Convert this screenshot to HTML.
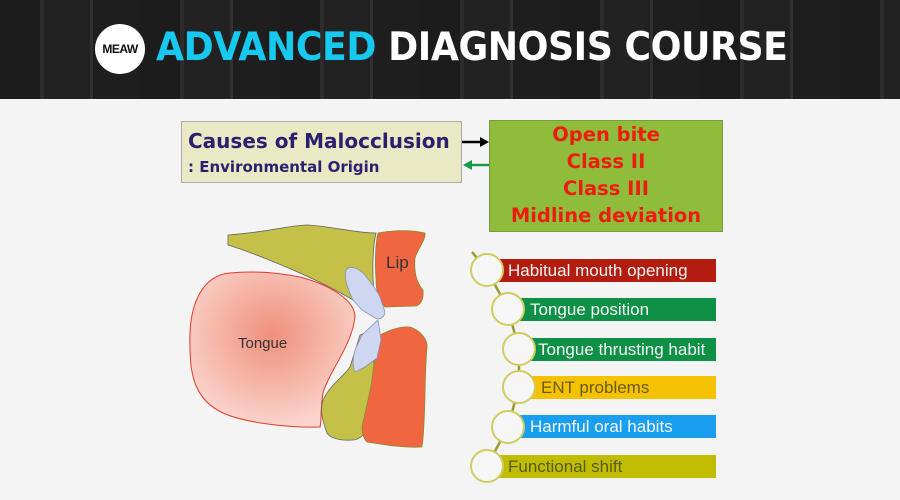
<!DOCTYPE html>
<html><head><meta charset="utf-8"><style>
body{margin:0;width:900px;height:500px;overflow:hidden;background:#f4f4f4;font-family:"DejaVu Sans","Liberation Sans",sans-serif;position:relative}
.hdr{position:absolute;left:0;top:0;width:900px;height:99px;background:repeating-linear-gradient(90deg,#1c1c1c 0 40px,#2c2c2c 40px 44px,#222 44px 90px,#303030 90px 93px,#1e1e1e 93px 140px);}
.logo{position:absolute;left:95px;top:24px;width:50px;height:50px;border-radius:50%;background:#fff;font:bold 12px "Liberation Sans",sans-serif;color:#111;text-align:center;line-height:50px;letter-spacing:-0.5px}
.title{position:absolute;left:156px;top:25px;font:bold 39px "DejaVu Sans","Liberation Sans",sans-serif;color:#fff;white-space:nowrap;letter-spacing:-0.5px;transform:scaleX(0.93);transform-origin:left}
.title span{color:#17c8ef}
.b1{position:absolute;left:181px;top:121px;width:279px;height:60px;background:#e9e9c6;border:1px solid #aaa;color:#2b1f6e;font-weight:bold}
.b2{position:absolute;left:489px;top:120px;width:234px;height:112px;background:#8fbd3b;border:1px solid #7a9a40;color:#ee1c10;font-weight:bold;font-size:19.5px;text-align:center;line-height:27px;padding-top:0px;box-sizing:border-box}
.bar{position:absolute;height:23px;line-height:23px;font-size:17px;font-family:"Liberation Sans",sans-serif;color:#f4f4f4;padding-left:10px;box-sizing:border-box;white-space:nowrap}
</style></head><body>
<div class="hdr"></div>
<div class="logo">MEAW</div>
<div class="title"><span>ADVANCED</span> DIAGNOSIS COURSE</div>
<div class="b1"><div style="position:absolute;left:6px;top:7px;font-size:20px">Causes of Malocclusion</div><div style="position:absolute;left:6px;top:36px;font-size:15px">: Environmental Origin</div></div>
<div class="b2">Open bite<br>Class II<br>Class III<br>Midline deviation</div>
<svg width="900" height="500" style="position:absolute;left:0;top:0">
<defs><radialGradient id="tg" cx="0.5" cy="0.4" r="0.6"><stop offset="0" stop-color="#f0907c"/><stop offset="1" stop-color="#fad4cc"/></radialGradient></defs>
<line x1="462" y1="142" x2="482" y2="142" stroke="#000" stroke-width="2.5"/><polygon points="489,142 480,137 480,147" fill="#000"/>
<line x1="470" y1="165" x2="489" y2="165" stroke="#169a4a" stroke-width="2.5"/><polygon points="463,165 472,160 472,170" fill="#169a4a"/>
<path d="M228,235 C270,232 290,225 307,225 C330,226 355,233 376,233 C372,250 372,280 375,300 L353,300 C320,280 260,255 228,245 Z" fill="#c4c048" stroke="#666" stroke-width="0.8"/>
<path d="M378,233 C395,230 412,230 425,233 C426,240 418,248 415,258 C414,270 416,282 423,290 C424,300 420,305 416,306 L385,307 C379,300 376,290 376,280 C375,265 375,245 378,233 Z" fill="#ef6640" stroke="#8a8a30" stroke-width="0.8"/>
<path d="M190,347 C188,300 205,275 230,273 C260,270 285,274 300,277 C330,285 355,300 355,317 C352,345 330,370 323,393 C320,410 322,420 320,427 C290,428 245,423 223,413 C195,400 190,375 190,347 Z" fill="url(#tg)" stroke="#e23a2a" stroke-width="1"/>
<path d="M360,335 L373,330 C374,370 376,400 372,420 C368,432 360,440 353,440 C340,441 330,438 327,433 C322,420 320,410 323,400 C330,385 345,375 350,367 Z" fill="#c4c048" stroke="#666" stroke-width="0.8"/>
<path d="M380,335 C390,330 400,326 410,327 C420,330 428,340 427,347 C424,380 426,420 422,447 C405,448 385,445 367,442 C362,437 362,430 362,427 C368,400 372,385 373,370 Z" fill="#ef6640" stroke="#8a8a30" stroke-width="0.8"/>
<path d="M346,270 C350,265 358,268 364,274 C372,284 378,292 380,297 L385,312 C384,318 380,320 375,318 L362,310 L353,300 C348,290 344,278 346,270 Z" fill="#cfd6f2" stroke="#8890b8" stroke-width="0.8"/>
<path d="M362,335 L378,320 L381,340 L377,358 L365,367 L355,372 C352,365 353,358 355,350 Z" fill="#cfd6f2" stroke="#8890b8" stroke-width="0.8"/>
<text x="238" y="348" font-family="Liberation Sans,sans-serif" font-size="15" fill="#333">Tongue</text>
<text x="386" y="268" font-family="Liberation Sans,sans-serif" font-size="17" fill="#333">Lip</text>
<polyline points="472,252 487,270 508,309 519,349 519,387 508,427 487,466" fill="none" stroke="#9a9a30" stroke-width="2.5"/>
</svg>
<div class="bar" style="left:496px;top:259px;width:220px;background:#b21d0f;padding-left:12px">Habitual mouth opening</div>
<div class="bar" style="left:517px;top:298px;width:199px;background:#0e9147;padding-left:13px">Tongue position</div>
<div class="bar" style="left:528px;top:338px;width:188px;background:#0e9147">Tongue thrusting habit</div>
<div class="bar" style="left:528px;top:376px;width:188px;background:#f4c200;color:#6b5a1a;padding-left:13px">ENT problems</div>
<div class="bar" style="left:517px;top:415px;width:199px;background:#1a9ff0;padding-left:13px">Harmful oral habits</div>
<div class="bar" style="left:496px;top:455px;width:220px;background:#c0bd00;color:#5a5a1a;padding-left:12px">Functional shift</div>
<svg width="900" height="500" style="position:absolute;left:0;top:0">
<g fill="#f6f6f6" stroke="#d0cc60" stroke-width="2">
<circle cx="487" cy="270" r="16"/><circle cx="508" cy="309" r="16"/><circle cx="519" cy="349" r="16"/><circle cx="519" cy="387" r="16"/><circle cx="508" cy="427" r="16"/><circle cx="487" cy="466" r="16"/>
</g></svg>
</body></html>
